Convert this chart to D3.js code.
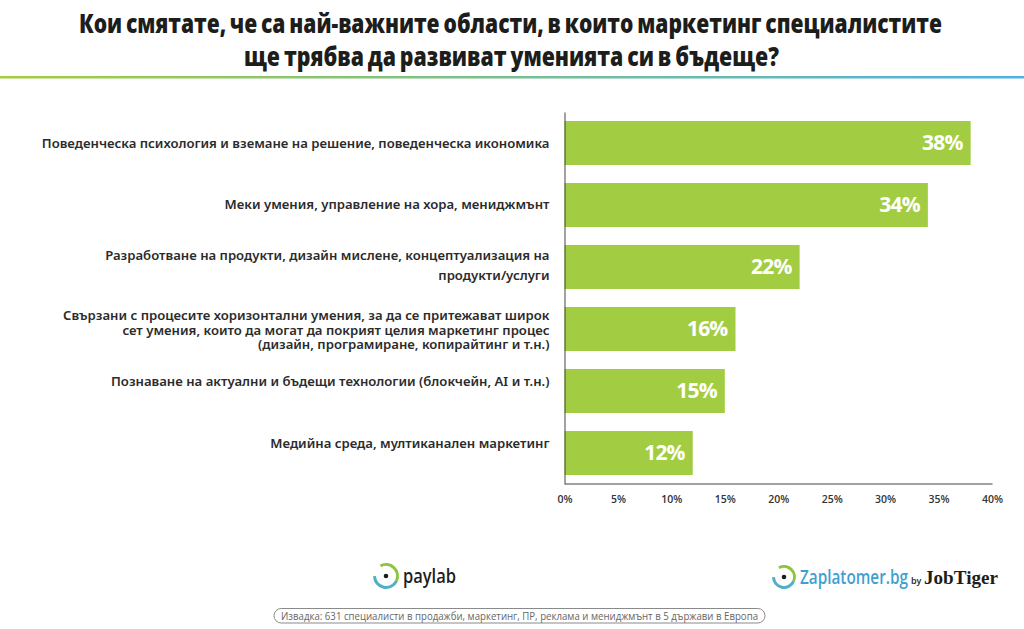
<!DOCTYPE html>
<html>
<head>
<meta charset="utf-8">
<script src="https://cdn.jsdelivr.net/npm/d3@7"></script>
<style>
    html, body { margin: 0; padding: 0; background: #fff; }
</style>
</head>
<body>
<div class="d3"></div>
<script>
const categories = [
    ["Поведенческа психология и вземане на решение, поведенческа икономика"],
    ["Меки умения, управление на хора, мениджмънт"],
    ["Разработване на продукти, дизайн мислене, концептуализация на", "продукти/услуги"],
    ["Свързани с процесите хоризонтални умения, за да се притежават широк", "сет умения, които да могат да покрият целия маркетинг процес", "(дизайн, програмиране, копирайтинг и т.н.)"],
    ["Познаване на актуални и бъдещи технологии (блокчейн, AI и т.н.)"],
    ["Медийна среда, мултиканален маркетинг"]
];
const values = [38, 34, 22, 16, 15, 12];
const xTicks = [0, 5, 10, 15, 20, 25, 30, 35, 40];
const titleLines = [
    "Кои смятате, че са най-важните области, в които маркетинг специалистите",
    "ще трябва да развиват уменията си в бъдеще?"
];
const sourceNote = "Извадка: 631 специалисти в продажби, маркетинг, ПР, реклама и мениджмънт в 5 държави в Европа";

function main() {
    const width = 1024;
    const height = 629;
    const svg = d3.select(".d3")
        .append("svg")
        .attr("width", width)
        .attr("height", height)
        .style("display", "block")
        .style("font-family", "'Open Sans', 'Noto Sans', sans-serif");

    // title, squeezed to look like the condensed bold of the original
    const titleBox = [[79, 942, 33], [244, 779, 66]];
    titleLines.forEach(function (line, i) {
        svg.append("text")
            .attr("x", titleBox[i][0])
            .attr("y", titleBox[i][2])
            .attr("textLength", titleBox[i][1] - titleBox[i][0])
            .attr("lengthAdjust", "spacingAndGlyphs")
            .attr("font-size", 26)
            .attr("font-weight", 800)
            .attr("word-spacing", -2)
            .attr("fill", "#1d1d1b")
            .text(line);
    });

    const defs = svg.append("defs");
    const grad = defs.append("linearGradient").attr("id", "rule");
    grad.append("stop").attr("offset", "0%").attr("stop-color", "#a2cd3e");
    grad.append("stop").attr("offset", "100%").attr("stop-color", "#4fb0e3");
    svg.append("rect")
        .attr("x", 0).attr("y", 76)
        .attr("width", width).attr("height", 2.5)
        .attr("fill", "url(#rule)");

    const x = d3.scaleLinear().domain([0, 40]).range([564.5, 992]);
    const y = d3.scaleBand()
        .domain(d3.range(values.length))
        .range([112, 484])
        .paddingInner(0.29)
        .paddingOuter(0.145);

    svg.selectAll("rect.bar")
        .data(values)
        .enter()
        .append("rect")
        .attr("class", "bar")
        .attr("x", x(0))
        .attr("y", function (d, i) { return y(i); })
        .attr("width", function (d) { return x(d) - x(0); })
        .attr("height", y.bandwidth())
        .attr("fill", "#a2cd42");

    svg.selectAll("text.value")
        .data(values)
        .enter()
        .append("text")
        .attr("class", "value")
        .attr("x", function (d) { return x(d) - 8; })
        .attr("y", function (d, i) { return y(i) + y.bandwidth() / 2 + 6.5; })
        .attr("text-anchor", "end")
        .attr("font-size", 21)
        .attr("font-weight", 700)
        .attr("letter-spacing", -0.8)
        .attr("fill", "#fff")
        .text(function (d) { return d + "%"; });

    // axes
    const xAxis = d3.axisBottom(x)
        .tickValues(xTicks)
        .tickSize(0)
        .tickPadding(12)
        .tickFormat(function (d) { return d + "%"; });
    const gx = svg.append("g").attr("transform", "translate(0,483.5)").call(xAxis);
    gx.select(".domain").attr("stroke", "#444").attr("stroke-width", 1);
    gx.selectAll("text")
        .attr("font-family", "'Open Sans'")
        .attr("font-size", 10.5)
        .attr("font-weight", 600)
        .attr("fill", "#333");

    const gy = svg.append("g").attr("transform", "translate(564.5,0)")
        .call(d3.axisLeft(y).tickSize(0).tickFormat(""));
    gy.select(".domain").attr("stroke", "#444").attr("stroke-width", 1);

    // category labels, line spacing differs per label in the original
    const lineGap = [0, 0, 20, 14.5, 0, 0];
    const firstY = [148, 209, 260, 320, 386, 448];
    categories.forEach(function (lines, i) {
        lines.forEach(function (line, j) {
            svg.append("text")
                .attr("x", 549.5)
                .attr("y", firstY[i] + j * lineGap[i])
                .attr("text-anchor", "end")
                .attr("font-family", "'Noto Sans'")
                .attr("font-size", 13.15)
                .attr("font-weight", 600)
                .attr("fill", "#2b2b2b")
                .text(line);
        });
    });

    // logos
    function logo(cx, cy, r) {
        const g = svg.append("g").attr("transform", "translate(" + cx + "," + cy + ")");
        const ring = d3.arc().innerRadius(r - 3).outerRadius(r);
        g.append("path").attr("fill", "#8cc63f")
            .attr("d", ring({ startAngle: -0.5, endAngle: 2.0 }));
        g.append("path").attr("fill", "#4fb0c6")
            .attr("d", ring({ startAngle: 2.0, endAngle: 4.7 }));
        g.append("circle").attr("r", 2.3).attr("fill", "#1d1d1b");
    }
    logo(386, 576, 13);
    svg.append("text").attr("x", 403).attr("y", 583)
        .attr("font-size", 20).attr("font-weight", 600)
        .attr("textLength", 53).attr("lengthAdjust", "spacingAndGlyphs")
        .attr("fill", "#1d1d1b").text("paylab");

    logo(784, 577, 12);
    svg.append("text").attr("x", 800).attr("y", 584)
        .attr("font-size", 19).attr("font-weight", 600)
        .attr("textLength", 108).attr("lengthAdjust", "spacingAndGlyphs")
        .attr("fill", "#3f9fd0").text("Zaplatomer.bg");
    svg.append("text").attr("x", 911).attr("y", 584)
        .attr("font-size", 9).attr("font-weight", 600)
        .attr("fill", "#1d1d1b").text("by");
    svg.append("text").attr("x", 924).attr("y", 584)
        .attr("font-family", "'Liberation Serif'")
        .attr("font-size", 19).attr("font-weight", 700)
        .attr("textLength", 74).attr("lengthAdjust", "spacingAndGlyphs")
        .attr("fill", "#1d1d1b").text("JobTiger");

    // source note
    svg.append("rect")
        .attr("x", 274).attr("y", 608.5)
        .attr("width", 491).attr("height", 14.5)
        .attr("rx", 7.2)
        .attr("fill", "#fff")
        .attr("stroke", "#8a8a8a");
    svg.append("text")
        .attr("x", 281).attr("y", 619.5)
        .attr("textLength", 477).attr("lengthAdjust", "spacingAndGlyphs")
        .attr("font-size", 10)
        .attr("fill", "#666")
        .text(sourceNote);
}
main();
</script>
</body>
</html>
